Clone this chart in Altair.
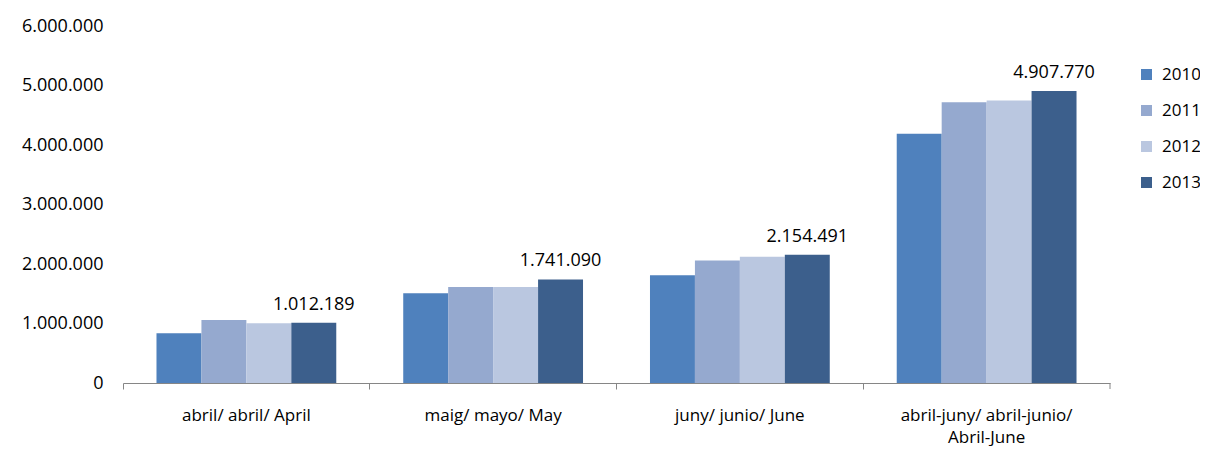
import altair as alt
import pandas as pd

categories = ["abril/ abril/ April", "maig/ mayo/ May", "juny/ junio/ June",
              "abril-juny/ abril-junio/\nAbril-June"]
years = ["2010", "2011", "2012", "2013"]
v2010 = [835000, 1507000, 1810000, 4190000]
v2011 = [1060000, 1613000, 2060000, 4720000]
v2012 = [1003000, 1612000, 2120000, 4750000]
v2013 = [1012189, 1741090, 2154491, 4907770]
colors = ["#4F81BD", "#95A9CF", "#BAC7E0", "#3C5F8C"]
y_ticks = [0, 1000000, 2000000, 3000000, 4000000, 5000000, 6000000]

rows = []
for yr, vals in zip(years, [v2010, v2011, v2012, v2013]):
    for c, v in zip(categories, vals):
        rows.append({"cat": c, "year": yr, "value": v})
df = pd.DataFrame(rows)

FONT = "Open Sans"

x_enc = alt.X("cat:N", sort=categories,
              scale=alt.Scale(paddingInner=0, paddingOuter=0),
              axis=alt.Axis(title=None, labelAngle=0, bandPosition=0,
                            domainColor="#868686", tickColor="#868686",
                            tickSize=6, labelPadding=26, labelFontSize=17,
                            labelColor="#000000", labelFont=FONT,
                            labelLineHeight=22, labelBaseline="middle",
                            labelExpr="split(datum.label, '\\n')"))
xoff = alt.XOffset("year:N", sort=years,
                   scale=alt.Scale(paddingInner=0, paddingOuter=0.745))

bars = alt.Chart(df).mark_bar().encode(
    x=x_enc,
    xOffset=xoff,
    y=alt.Y("value:Q",
            scale=alt.Scale(domain=[0, 6000000], nice=False),
            axis=alt.Axis(title=None, values=y_ticks, format=",d",
                          grid=False, domain=False, ticks=False,
                          labelPadding=20, labelFontSize=18,
                          labelFont=FONT, labelColor="#000000")),
    color=alt.Color("year:N", sort=years,
                    scale=alt.Scale(domain=years, range=colors),
                    legend=alt.Legend(title=None, orient="none",
                                      legendX=1015, legendY=40,
                                      symbolType="square", symbolSize=121,
                                      symbolStrokeWidth=0,
                                      labelFontSize=17, labelFont=FONT,
                                      labelColor="#000000",
                                      rowPadding=18, labelOffset=7)),
)

labels = alt.Chart(df).transform_filter(
    alt.datum.year == "2013"
).mark_text(baseline="bottom", dy=-9, fontSize=18, font=FONT,
            color="#000000").encode(
    x=alt.X("cat:N", sort=categories),
    xOffset=alt.XOffset("year:N", sort=years),
    y=alt.Y("value:Q"),
    text=alt.Text("value:Q", format=",d"),
)

end_tick = alt.Chart(pd.DataFrame({"cat": [categories[-1]]})).mark_rule(
    color="#868686").encode(
    x=alt.X("cat:N", sort=categories, bandPosition=1),
    y=alt.value(357),
    y2=alt.value(363),
)

chart = alt.layer(bars, labels, end_tick).properties(
    width=987, height=357,
    autosize=alt.AutoSizeParams(type="none"),
    padding={"left": 115, "top": 18, "right": 90, "bottom": 63},
).configure(
    locale={"number": {"decimal": ",", "thousands": ".", "grouping": [3],
                       "currency": ["", " €"]}}
).configure_view(stroke=None)

chart.save("out.html", embed_options={"renderer": "svg", "actions": False})
